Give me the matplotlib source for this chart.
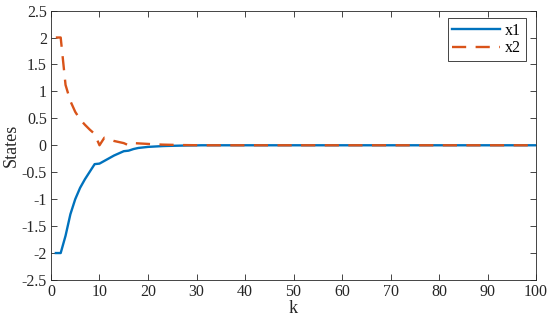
import matplotlib
matplotlib.use("Agg")
import matplotlib.pyplot as plt

# states, k = 1..100
k = list(range(1, 101))
x1 = [-2.0, -2.0, -1.68, -1.28, -1.0, -0.79, -0.63, -0.49, -0.35, -0.34,
      -0.29, -0.24, -0.19, -0.15, -0.11, -0.10, -0.07, -0.05, -0.04, -0.03,
      -0.025, -0.02, -0.015, -0.012, -0.01, -0.008, -0.006, -0.004, -0.003, -0.002] + [0.0] * 70
x2 = [2.0, 2.0, 1.12, 0.82, 0.62, 0.48, 0.38, 0.29, 0.21, 0.0,
      0.14, 0.11, 0.08, 0.06, 0.04, 0.0, 0.04, 0.035, 0.03, 0.025,
      0.02, 0.016, 0.012, 0.01, 0.008, 0.006, 0.004, 0.003, 0.002, 0.001] + [0.0] * 70
xticks = list(range(0, 101, 10))
yticks = [-2.5, -2, -1.5, -1, -0.5, 0, 0.5, 1, 1.5, 2, 2.5]
ytick_labels = ["-2.5", "-2", "-1.5", "-1", "-0.5", "0", "0.5", "1", "1.5", "2", "2.5"]

plt.rcParams['font.family'] = ['Liberation Serif', 'DejaVu Serif']
plt.rcParams['font.size'] = 11.5

fig = plt.figure(figsize=(5.5, 3.25), dpi=100)
ax = fig.add_axes([0.0927, 0.1385, 0.882, 0.829])

ax.plot(k, x1, color='#0072BD', lw=1.7, label='x1')
ax.plot(k, x2, color='#D95319', lw=1.7, ls=(0, (6, 4)), label='x2')

ax.set_xlim(0, 100)
ax.set_ylim(-2.5, 2.5)
ax.set_xticks(xticks)
ax.set_yticks(yticks)
ax.set_yticklabels(ytick_labels)
ax.tick_params(direction='in', length=4, width=0.6, color='#262626',
               top=True, right=True, labelcolor='#262626', pad=3)
for s in ax.spines.values():
    s.set_linewidth(0.6)
    s.set_color('#262626')
ax.set_xlabel('k', color='#262626', fontsize=13, labelpad=0)
ax.set_ylabel('States', color='#262626', fontsize=13, labelpad=1)

leg = ax.legend(loc='upper right', bbox_to_anchor=(0.979, 0.972), fancybox=False,
                edgecolor='#262626', framealpha=1, fontsize=11.5, handlelength=3.0,
                borderpad=0.3, labelspacing=0.1, handletextpad=0.3, borderaxespad=0)
leg.get_frame().set_linewidth(0.6)

fig.savefig('out.png', dpi=100)
